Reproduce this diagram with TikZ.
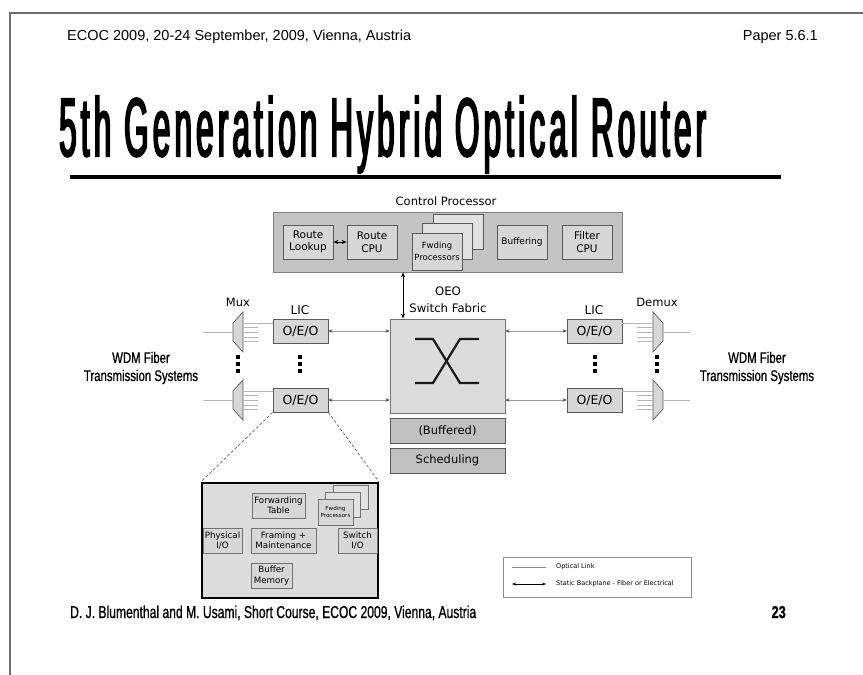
\documentclass[tikz,border=0pt]{standalone}
\usepackage{fontspec}
\setmainfont{DejaVu Sans}
\newfontfamily\hdrfont{Liberation Sans}
\newfontfamily\condfont[FakeStretch=0.74,FakeBold=0.8]{Liberation Sans}
\newfontfamily\titlefont[FakeStretch=0.45,FakeBold=2.5,LetterSpace=6]{Liberation Sans}
\usetikzlibrary{arrows.meta,calc}
\definecolor{cpfill}{HTML}{C4C4C4}
\definecolor{boxfill}{HTML}{D7D7D7}
\definecolor{backfill}{HTML}{E2E2E2}
\definecolor{swfill}{HTML}{DCDCDC}
\definecolor{darkfill}{HTML}{C0C0C0}
\definecolor{edgegray}{HTML}{5A5A5A}
\definecolor{fibergray}{HTML}{B4B4B4}
\definecolor{framegray}{HTML}{6E6E6E}
\tikzset{
  pageframe/.style={draw=framegray, line width=1.2pt},
  lbl/.style={inner sep=0pt, align=center, font=\fontsize{11.5}{16}\selectfont},
  cpouter/.style={draw=black!50, fill=cpfill, line width=0.8pt, inner sep=0pt},
  cbox/.style={draw=edgegray, fill=boxfill, line width=0.7pt, inner sep=0pt, align=center,
    minimum width=50pt, minimum height=34pt, font=\fontsize{10.5}{12.5}\selectfont},
  oeo/.style={draw=edgegray, fill=boxfill, line width=0.7pt, inner sep=0pt,
    minimum width=55pt, minimum height=24pt, font=\fontsize{12.5}{14}\selectfont},
  swbox/.style={draw=black!55, fill=swfill, line width=0.8pt, inner sep=0pt},
  dbox/.style={draw=edgegray, fill=darkfill, line width=0.8pt, inner sep=0pt,
    minimum width=115pt, minimum height=25pt, font=\fontsize{11.5}{14}\selectfont},
  xline/.style={draw=black!90, line width=2.2pt},
  muxshape/.style={draw=edgegray, fill=boxfill, line width=0.7pt, line join=miter},
  fiber/.style={draw=fibergray, line width=0.9pt},
  backplane/.style={draw=black!40, line width=0.8pt,
    {Stealth[length=4pt,width=3.5pt,color=black!70]}-{Stealth[length=4pt,width=3.5pt,color=black!70]}},
  ctlarrow/.style={draw=black, line width=0.8pt,
    {Stealth[length=5pt,width=4pt]}-{Stealth[length=5pt,width=4pt]}},
  zoomline/.style={draw=black!60, line width=0.7pt, dash pattern=on 3pt off 2pt},
  inset/.style={draw=black, fill=swfill, line width=2.2pt, inner sep=0pt},
  ibox/.style={draw=black!55, fill=boxfill, line width=0.6pt, inner sep=0pt, align=center,
    font=\fontsize{8.7}{10.3}\selectfont},
  wdm/.style={inner sep=0pt, align=center, font=\condfont\fontsize{15.4}{18}\selectfont},
  legendbox/.style={draw=black!45, fill=white, line width=0.7pt, inner sep=0pt},
  legtext/.style={inner sep=0pt, anchor=west, font=\fontsize{6.5}{8}\selectfont},
}
\begin{document}
\begin{tikzpicture}[x=1pt,y=-1pt]
\path[use as bounding box, fill=white] (0,0) rectangle (863,675);

% page frame
\coordinate (frTL) at (10,13);
\coordinate (frTR) at (863,13);
\coordinate (frBL) at (10,675);
\draw[pageframe] (frTR) -- (frTL) -- (frBL);

% header line
\node[anchor=base west, inner sep=0pt, font=\hdrfont\fontsize{14.5}{16}\selectfont] (hdrL) at (67,40)
  {ECOC 2009, 20-24 September, 2009, Vienna, Austria};
\node[anchor=base east, inner sep=0pt, font=\hdrfont\fontsize{14.5}{16}\selectfont] (hdrR) at (818,40)
  {Paper 5.6.1};

% title and rule
\node[anchor=base west, inner sep=0pt] (title) at (59,156)
  {\resizebox{647pt}{60pt}{\titlefont\fontsize{81}{90}\selectfont 5th Generation Hybrid Optical Router}};
\coordinate (ruleA) at (70,177);
\coordinate (ruleB) at (781,177);
\draw[line width=4pt] (ruleA) -- (ruleB);

% control processor
\node[lbl] (cplabel) at (446,201) {Control Processor};
\node[cpouter, minimum width=349pt, minimum height=60pt] (cp) at (447.5,242) {};
\node[cbox] (rl) at (308,242) {Route\\Lookup};
\node[cbox] (rc) at (372,242) {Route\\CPU};
\node[cbox, fill=backfill, minimum height=35pt] (fp3) at (458,231.5) {};
\node[cbox, fill=backfill, minimum height=36pt] (fp2) at (447.5,241) {};
\node[cbox, minimum height=37pt, font=\fontsize{8.5}{12}\selectfont] (fp1) at (437,251.5) {Fwding\\Processors};
\node[cbox, font=\fontsize{9}{11}\selectfont] (bf) at (522,242) {Buffering};
\node[cbox] (fc) at (587,242) {Filter\\CPU};
\draw[ctlarrow] (rl) -- (rc);

% switch fabric
\node[lbl, font=\fontsize{11.7}{17}\selectfont] (swlabel) at (448,300) {OEO\\Switch Fabric};
\node[swbox, minimum width=115pt, minimum height=94pt] (sw) at (447.5,366) {};
\node[dbox] (bfd) at (447.5,430.5) {(Buffered)};
\node[dbox] (sch) at (447.5,460.5) {Scheduling};
\draw[xline] (415,339) -- (433,339) -- (460,383) -- (479,383);
\draw[xline] (479,339) -- (460,339) -- (433,383) -- (415,383);
\coordinate (ctl) at (403,0);
\draw[ctlarrow] (ctl |- cp.south) -- (ctl |- sw.north);

% line interface cards
\node[lbl, font=\fontsize{12}{14}\selectfont] (licL) at (300,310) {LIC};
\node[lbl, font=\fontsize{12}{14}\selectfont] (licR) at (594,310) {LIC};
\node[lbl] (muxlbl) at (238,302) {Mux};
\node[lbl] (demuxlbl) at (657,302) {Demux};
\node[oeo] (oel1) at (300.5,331) {O/E/O};
\node[oeo] (oel2) at (300.5,400) {O/E/O};
\node[oeo] (oer1) at (594.5,331) {O/E/O};
\node[oeo] (oer2) at (594.5,400) {O/E/O};

\draw[backplane] (oel1.east) -- (sw.west |- oel1.east);
\draw[backplane] (oel2.east) -- (sw.west |- oel2.east);
\draw[backplane] (sw.east |- oer1.west) -- (oer1.west);
\draw[backplane] (sw.east |- oer2.west) -- (oer2.west);

% multiplexers, demultiplexers and fibre lines
\foreach \yy in {332,400} {
  \draw[muxshape] (233,\yy-9) -- (243,\yy-20) -- (243,\yy+20) -- (233,\yy+9) -- cycle;
  \draw[muxshape] (653,\yy-20) -- (663,\yy-9) -- (663,\yy+9) -- (653,\yy+20) -- cycle;
  \foreach \d in {-5,0,5,9} {
    \draw[fiber] (243.5,\yy+\d) -- (258,\yy+\d);
    \draw[fiber] (637,\yy+\d) -- (652.5,\yy+\d);
  }
}
\coordinate (fL1) at (203,332); \coordinate (mL1) at (233,332);
\coordinate (fL2) at (203,400); \coordinate (mL2) at (233,400);
\coordinate (fR1) at (690,332); \coordinate (mR1) at (663,332);
\coordinate (fR2) at (690,400); \coordinate (mR2) at (663,400);
\draw[fiber] (fL1) -- (mL1);
\draw[fiber] (fL2) -- (mL2);
\draw[fiber] (mR1) -- (fR1);
\draw[fiber] (mR2) -- (fR2);
\coordinate (tL1) at (243.5,323); \coordinate (tL2) at (243.5,391);
\coordinate (tR1) at (652.5,323); \coordinate (tR2) at (652.5,391);
\draw[fiber] (tL1) -- (tL1 -| oel1.west);
\draw[fiber] (tL2) -- (tL2 -| oel2.west);
\draw[fiber] (tR1 -| oer1.east) -- (tR1);
\draw[fiber] (tR2 -| oer2.east) -- (tR2);

% ellipsis dots
\foreach \xx in {238,300,595,657}
  \foreach \yy in {357,364,371}
    \fill (\xx-1.7,\yy-1.9) rectangle ++(3.4,3.8);

% fibre system labels
\node[wdm] (wdmL) at (141,368) {WDM Fiber\\Transmission Systems};
\node[wdm] (wdmR) at (757,368) {WDM Fiber\\Transmission Systems};

% line card detail
\node[inset, minimum width=176pt, minimum height=115pt] (ins) at (290,540.5) {};
\draw[zoomline] (oel2.south west) -- (ins.north west);
\draw[zoomline] (oel2.south east) -- (ins.north east);
\node[ibox, minimum width=53pt, minimum height=25pt] (ft) at (278.5,505.5) {Forwarding\\Table};
\node[ibox, fill=backfill, minimum width=35pt, minimum height=24pt] (ifp3) at (350.5,497) {};
\node[ibox, fill=backfill, minimum width=35pt, minimum height=25pt] (ifp2) at (342.5,504.5) {};
\node[ibox, minimum width=35pt, minimum height=26pt, font=\fontsize{5.6}{7}\selectfont] (ifp1) at (335.5,512) {Fwding\\Processors};
\node[ibox, minimum width=39pt, minimum height=25pt] (pio) at (222.5,540.5) {Physical\\I/O};
\node[ibox, minimum width=65pt, minimum height=25pt] (fm) at (283.5,540.5) {Framing +\\Maintenance};
\node[ibox, minimum width=39pt, minimum height=25pt] (swio) at (357.5,540.5) {Switch\\I/O};
\node[ibox, minimum width=41pt, minimum height=25pt] (bm) at (271.5,575.5) {Buffer\\Memory};

% legend
\node[legendbox, minimum width=188pt, minimum height=40pt] (leg) at (597,577) {};
\coordinate (lgA1) at (512,567); \coordinate (lgB1) at (546,567);
\coordinate (lgA2) at (512,584); \coordinate (lgB2) at (546,584);
\draw[fiber, draw=black!45] (lgA1) -- (lgB1);
\draw[line width=0.7pt, {Stealth[length=4pt,width=3pt]}-{Stealth[length=4pt,width=3pt]}] (lgA2) -- (lgB2);
\node[legtext] (lgT1) at (556,567) {Optical Link};
\node[legtext] (lgT2) at (556,584) {Static Backplane - Fiber or Electrical};

% footer
\node[anchor=base west, inner sep=0pt] (foot) at (70,618)
  {\resizebox{406pt}{12.5pt}{\condfont D. J. Blumenthal and M. Usami, Short Course, ECOC 2009, Vienna, Austria}};
\node[anchor=base east, inner sep=0pt] (pgnum) at (786,618)
  {\resizebox{!}{12pt}{\condfont\bfseries 23}};
\end{tikzpicture}
\end{document}
